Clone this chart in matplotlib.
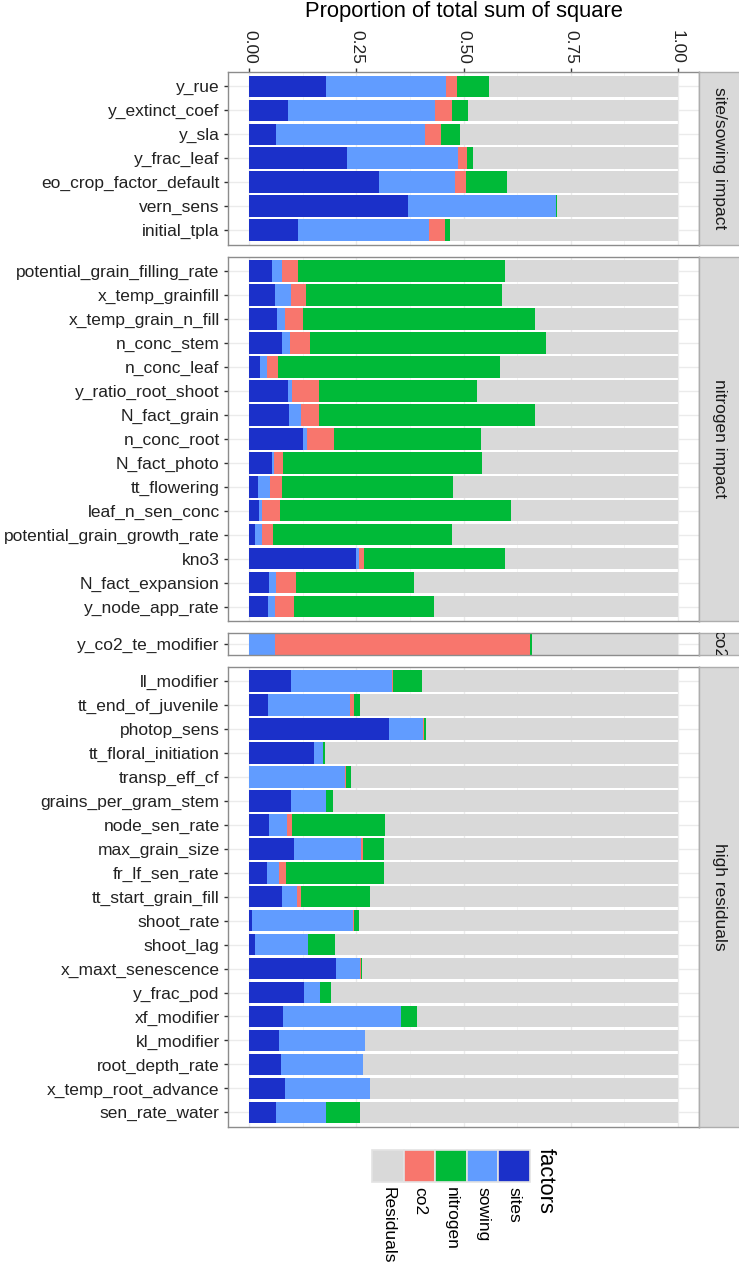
import numpy as np
import matplotlib
matplotlib.use("Agg")
import matplotlib.pyplot as plt
from matplotlib.patches import Rectangle

plt.rcParams['font.family'] = ['Liberation Sans', 'DejaVu Sans']

W, H = 739, 1265

factors = ["sites", "sowing", "co2", "nitrogen", "Residuals"]
colors = {"sites": "#1B30C9", "sowing": "#619CFF", "co2": "#F8766D",
          "nitrogen": "#00BA38", "Residuals": "#D9D9D9"}

# --- site/sowing impact ---
p1_labels = ["y_rue", "y_extinct_coef", "y_sla", "y_frac_leaf",
             "eo_crop_factor_default", "vern_sens", "initial_tpla"]
p1_sites = [0.179, 0.091, 0.062, 0.229, 0.303, 0.371, 0.114]
p1_sowing = [0.279, 0.343, 0.347, 0.257, 0.177, 0.345, 0.306]
p1_co2 = [0.026, 0.039, 0.039, 0.023, 0.027, 0.000, 0.037]
p1_nitrogen = [0.076, 0.038, 0.044, 0.014, 0.094, 0.003, 0.011]
p1_resid = [0.440, 0.489, 0.508, 0.477, 0.399, 0.281, 0.532]

# --- nitrogen impact ---
p2_labels = ["potential_grain_filling_rate", "x_temp_grainfill", "x_temp_grain_n_fill",
             "n_conc_stem", "n_conc_leaf", "y_ratio_root_shoot", "N_fact_grain",
             "n_conc_root", "N_fact_photo", "tt_flowering", "leaf_n_sen_conc",
             "potential_grain_growth_rate", "kno3", "N_fact_expansion", "y_node_app_rate"]
p2_sites = [0.053, 0.060, 0.064, 0.075, 0.024, 0.090, 0.093, 0.126, 0.053, 0.020,
            0.022, 0.012, 0.249, 0.045, 0.044]
p2_sowing = [0.024, 0.037, 0.020, 0.020, 0.018, 0.009, 0.027, 0.009, 0.004, 0.029,
             0.007, 0.017, 0.007, 0.017, 0.015]
p2_co2 = [0.036, 0.035, 0.042, 0.046, 0.024, 0.063, 0.042, 0.062, 0.021, 0.026,
          0.042, 0.026, 0.011, 0.047, 0.044]
p2_nitrogen = [0.483, 0.459, 0.541, 0.552, 0.520, 0.369, 0.504, 0.343, 0.466, 0.400,
               0.541, 0.419, 0.329, 0.276, 0.328]
p2_resid = [0.404, 0.409, 0.333, 0.307, 0.414, 0.469, 0.334, 0.460, 0.456, 0.525,
            0.388, 0.526, 0.404, 0.615, 0.569]

# --- co2 ---
p3_labels = ["y_co2_te_modifier"]
p3_sites = [0.000]
p3_sowing = [0.060]
p3_co2 = [0.595]
p3_nitrogen = [0.005]
p3_resid = [0.340]

# --- high residuals ---
p4_labels = ["ll_modifier", "tt_end_of_juvenile", "photop_sens", "tt_floral_initiation",
             "transp_eff_cf", "grains_per_gram_stem", "node_sen_rate", "max_grain_size",
             "fr_lf_sen_rate", "tt_start_grain_fill", "shoot_rate", "shoot_lag",
             "x_maxt_senescence", "y_frac_pod", "xf_modifier", "kl_modifier",
             "root_depth_rate", "x_temp_root_advance", "sen_rate_water"]
p4_sites = [0.098, 0.044, 0.327, 0.152, 0.000, 0.098, 0.046, 0.105, 0.041, 0.077,
            0.005, 0.014, 0.202, 0.127, 0.078, 0.068, 0.073, 0.082, 0.062]
p4_sowing = [0.236, 0.191, 0.078, 0.019, 0.224, 0.080, 0.041, 0.155, 0.029, 0.033,
             0.238, 0.124, 0.057, 0.037, 0.276, 0.201, 0.192, 0.200, 0.117]
p4_co2 = [0.002, 0.009, 0.003, 0.001, 0.001, 0.001, 0.012, 0.006, 0.015, 0.010,
          0.001, 0.000, 0.001, 0.001, 0.001, 0.001, 0.000, 0.000, 0.001]
p4_nitrogen = [0.067, 0.014, 0.004, 0.004, 0.012, 0.016, 0.217, 0.048, 0.229, 0.161,
               0.013, 0.062, 0.002, 0.026, 0.037, 0.000, 0.000, 0.000, 0.078]
p4_resid = [0.597, 0.742, 0.588, 0.824, 0.763, 0.805, 0.684, 0.686, 0.686, 0.719,
            0.743, 0.800, 0.738, 0.809, 0.608, 0.730, 0.735, 0.718, 0.742]

panels = [
    ("site/sowing impact", p1_labels, [p1_sites, p1_sowing, p1_co2, p1_nitrogen, p1_resid], 72.0, 244.5, 0.6),
    ("nitrogen impact", p2_labels, [p2_sites, p2_sowing, p2_co2, p2_nitrogen, p2_resid], 256.7, 620.9, 0.6),
    ("co2", p3_labels, [p3_sites, p3_sowing, p3_co2, p3_nitrogen, p3_resid], 632.7, 655.2, 0.47),
    ("high residuals", p4_labels, [p4_sites, p4_sowing, p4_co2, p4_nitrogen, p4_resid], 666.7, 1126.7, 0.6),
]

LEFT, RIGHT, STRIP_R = 228.0, 699.0, 745.0
TXT = 12.5
DARK = "#222222"


def rect(x0, y0, x1, y1):
    # pixel box (top-left origin) -> figure fraction
    return [x0 / W, 1 - y1 / H, (x1 - x0) / W, (y1 - y0) / H]


fig = plt.figure(figsize=(W / 100, H / 100), dpi=100)

for k, (name, labels, series, top, bottom, pad) in enumerate(panels):
    ax = fig.add_axes(rect(LEFT, top, RIGHT, bottom))
    n = len(labels)
    ypos = np.arange(n)
    left = np.zeros(n)
    for f, vals in zip(factors, series):
        vals = np.array(vals)
        ax.barh(ypos, vals, left=left, height=0.9, color=colors[f], linewidth=0, zorder=2)
        left = left + vals
    ax.set_xlim(-0.05, 1.05)
    ax.set_ylim(n - 1 + pad, -pad)
    ax.set_yticks(ypos)
    ax.set_yticklabels(labels, fontsize=TXT, color=DARK)
    ax.set_xticks([0, 0.25, 0.5, 0.75, 1.0])
    ax.set_xticks([0.125, 0.375, 0.625, 0.875], minor=True)
    ax.grid(True, which="major", color="#EBEBEB", linewidth=1.0, zorder=0)
    ax.grid(True, which="minor", axis="x", color="#F2F2F2", linewidth=0.6, zorder=0)
    ax.set_axisbelow(True)
    ax.tick_params(axis="y", length=3, width=1, color="#333333", pad=3)
    if k == 0:
        ax.xaxis.tick_top()
        ax.set_xticklabels(["0.00", "0.25", "0.50", "0.75", "1.00"], rotation=-90,
                           fontsize=TXT, color=DARK)
        ax.tick_params(axis="x", which="major", length=3, width=1, color="#333333", pad=3)
        ax.tick_params(axis="x", which="minor", length=0)
    else:
        ax.tick_params(axis="x", which="both", length=0, labelbottom=False, labeltop=False)
    for s in ax.spines.values():
        s.set_color("#8C8C8C")
        s.set_linewidth(1.0)

    sax = fig.add_axes(rect(RIGHT, top, STRIP_R, bottom))
    sax.set_facecolor("#D9D9D9")
    sax.set_xticks([])
    sax.set_yticks([])
    for s in sax.spines.values():
        s.set_color("#ADADAD")
        s.set_linewidth(1.0)
    cx = (719.0 - RIGHT) / (STRIP_R - RIGHT)
    sax.text(cx, 0.5, name, rotation=-90, ha="center", va="center", fontsize=TXT,
             color="#1A1A1A", transform=sax.transAxes, clip_on=True)

fig.text((LEFT + RIGHT) / 2 / W, 1 - 11.5 / H, "Proportion of total sum of square",
         ha="center", va="center", fontsize=15.8, color="black")

# legend
leg_order = ["Residuals", "co2", "nitrogen", "sowing", "sites"]
key_x0, key_w, key_y0, key_y1 = 372.0, 31.6, 1150.0, 1182.0
for i, f in enumerate(leg_order):
    x0 = key_x0 + i * key_w
    fig.patches.append(Rectangle((x0 / W, 1 - key_y1 / H), key_w / W, (key_y1 - key_y0) / H,
                                 transform=fig.transFigure, facecolor=colors[f],
                                 edgecolor="#E3E3E3", linewidth=1.2))
    fig.text((x0 + key_w / 2) / W, 1 - 1187 / H, f, rotation=-90, ha="center", va="top",
             fontsize=TXT, color="black")
fig.text(545 / W, 1 - 1148 / H, "factors", rotation=-90, ha="center", va="top",
         fontsize=15.8, color="black")

fig.savefig("out.png", dpi=100)
